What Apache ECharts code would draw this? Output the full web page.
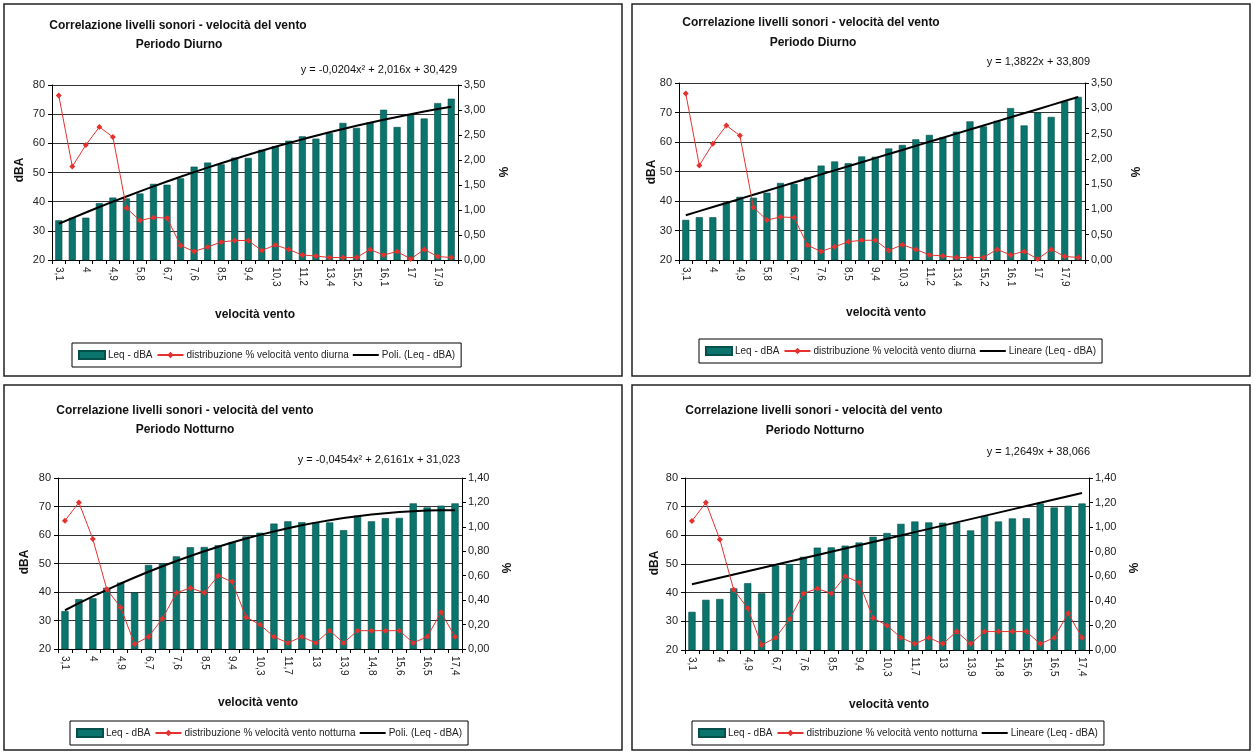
<!DOCTYPE html>
<html><head><meta charset="utf-8">
<script src="https://cdn.jsdelivr.net/npm/echarts@6/dist/echarts.min.js"></script>
<style>html,body{margin:0;padding:0;background:#fff}#c{width:1254px;height:753px}</style>
</head><body><div id="c"></div>
<script>
// ---------- DATA ----------
const catDay = ['3,1','3,6','4','4,5','4,9','5,4','5,8','6,3','6,7','7,2','7,6','8,1','8,5','9','9,4','9,9','10,3','10,8','11,2','12,5','13,4','14,3','15,2','15,6','16,1','16,5','17','17,4','17,9','18,4'];
const leqDay = [33.6,34.5,34.5,39.5,41.4,41.1,42.8,46.1,45.8,48,52,53.4,52.8,55.1,55,57.8,59,60.9,62.4,61.6,63.5,67,65.3,67.2,71.5,65.6,69.9,68.5,73.8,75.3];
const pctDay = [3.29,1.87,2.30,2.66,2.46,1.04,0.79,0.85,0.84,0.29,0.17,0.26,0.36,0.39,0.39,0.19,0.30,0.21,0.10,0.08,0.05,0.05,0.05,0.21,0.10,0.17,0.02,0.21,0.07,0.05];
const catNight = ['3,1','3,6','4','4,5','4,9','5,8','6,7','7,2','7,6','8,1','8,5','9','9,4','9,9','10,3','11,2','11,7','12,5','13','13,4','13,9','14,3','14,8','15,2','15,6','16,1','16,5','17','17,4'];
const leqNight = [33.3,37.5,37.8,41.5,43.3,39.8,49.5,50,52.5,55.7,55.8,56.4,57.5,59.5,60.8,64,64.8,64.5,64.4,64.4,61.7,66.8,64.8,65.9,66,71.1,69.7,70.3,71.1];
const pctNight = [1.05,1.20,0.90,0.49,0.34,0.04,0.10,0.25,0.46,0.50,0.46,0.60,0.55,0.26,0.20,0.10,0.05,0.10,0.05,0.15,0.05,0.15,0.15,0.15,0.15,0.05,0.10,0.30,0.10];
// trend line coefficients (as printed; night linear line as drawn in the picture)
const polyDay = [-0.0204, 2.016, 30.429];
const linDay = [1.3822, 33.809];
const polyNight = [-0.0454, 2.6161, 31.023];
const linNightDrawn = [1.136, 41.8];
const eqTexts = ['y = -0,0204x² + 2,016x + 30,429','y = 1,3822x + 33,809','y = -0,0454x² + 2,6161x + 31,023','y = 1,2649x + 38,066'];
const leftTicks = [20, 80, 10];
const rightDay = [0, 3.5, 0.5];
const rightNight = [0, 1.4, 0.2];

function trend(coef, n) {
  const out = [];
  for (let i = 1; i <= n; i++) {
    out.push(coef.length === 3 ? coef[0]*i*i + coef[1]*i + coef[2] : coef[0]*i + coef[1]);
  }
  return out;
}

// ---------- LAYOUT ----------
const panels = [
  {cats: catDay, leq: leqDay, pct: pctDay, tr: trend(polyDay, catDay.length), right: rightDay,
   trName: 'Poli. (Leq - dBA)', pctName: 'distribuzione % velocità vento diurna', sub: 'Periodo Diurno',
   frame: [4,4,618,372], grid: {left: 52, top: 85, width: 406, height: 175},
   t1: [178, 26], t2: [179, 45], eq: [457, 70], dba: [20, 170], pc: [502, 172], xn: [255, 315], lg: [72, 343]},
  {cats: catDay, leq: leqDay, pct: pctDay, tr: trend(linDay, catDay.length), right: rightDay,
   trName: 'Lineare (Leq - dBA)', pctName: 'distribuzione % velocità vento diurna', sub: 'Periodo Diurno',
   frame: [632,4,618,372], grid: {left: 679, top: 83, width: 406, height: 177},
   t1: [811, 23], t2: [813, 43], eq: [1090, 62], dba: [652, 172], pc: [1134, 172], xn: [886, 313], lg: [699, 339]},
  {cats: catNight, leq: leqNight, pct: pctNight, tr: trend(polyNight, catNight.length), right: rightNight,
   trName: 'Poli. (Leq - dBA)', pctName: 'distribuzione % velocità vento notturna', sub: 'Periodo Notturno',
   frame: [4,385,618,365], grid: {left: 58, top: 478, width: 404, height: 171},
   t1: [185, 411], t2: [185, 430], eq: [460, 460], dba: [25, 562], pc: [505, 568], xn: [258, 703], lg: [70, 721]},
  {cats: catNight, leq: leqNight, pct: pctNight, tr: trend(linNightDrawn, catNight.length), right: rightNight,
   trName: 'Lineare (Leq - dBA)', pctName: 'distribuzione % velocità vento notturna', sub: 'Periodo Notturno',
   frame: [632,385,618,365], grid: {left: 685, top: 478, width: 404, height: 172},
   t1: [814, 411], t2: [815, 431], eq: [1090, 452], dba: [655, 563], pc: [1132, 568], xn: [889, 705], lg: [692, 721]}
];

const FONT = "'Liberation Sans Narrow','Liberation Sans',Arial,sans-serif";
const TEAL = '#0a746d';
const RED = '#e5322f';
const LINE_ICON = 'path://M0,0 L26,0 L26,2 L0,2 Z';

const option = {animation: false, backgroundColor: '#fff', grid: [], xAxis: [], yAxis: [], series: [], legend: [], graphic: []};

panels.forEach((p, i) => {
  option.grid.push(Object.assign({containLabel: false}, p.grid));
  option.xAxis.push({
    type: 'category', gridIndex: i, data: p.cats, boundaryGap: true,
    axisLine: {lineStyle: {color: '#000', width: 1}},
    axisTick: {show: true, interval: 0, length: 4, lineStyle: {color: '#000'}},
    axisLabel: {interval: 1, rotate: -90, fontSize: 10, fontFamily: FONT, color: '#222', margin: 7}
  });
  option.yAxis.push({
    type: 'value', gridIndex: i, min: leftTicks[0], max: leftTicks[1], interval: leftTicks[2], position: 'left',
    axisLine: {show: true, lineStyle: {color: '#000'}},
    axisTick: {show: true, length: 4, lineStyle: {color: '#000'}},
    axisLabel: {fontSize: 11, fontFamily: FONT, color: '#222', margin: 7},
    splitLine: {show: true, lineStyle: {color: '#333', width: 1}}
  });
  option.yAxis.push({
    type: 'value', gridIndex: i, min: p.right[0], max: p.right[1], interval: p.right[2], position: 'right',
    axisLine: {show: true, lineStyle: {color: '#000'}},
    axisTick: {show: true, length: 4, lineStyle: {color: '#000'}},
    axisLabel: {fontSize: 11, fontFamily: FONT, color: '#222', margin: 6,
      formatter: v => v.toFixed(2).replace('.', ',')},
    splitLine: {show: false}
  });
  option.series.push({
    type: 'bar', name: 'Leq - dBA', xAxisIndex: i, yAxisIndex: 2*i, data: p.leq,
    barWidth: '52%', itemStyle: {color: TEAL, borderColor: '#05504b', borderWidth: 0.6}, z: 2
  });
  option.series.push({
    type: 'line', name: p.trName, xAxisIndex: i, yAxisIndex: 2*i, data: p.tr,
    symbol: 'none', lineStyle: {color: '#000', width: 2}, itemStyle: {color: '#000'}, z: 3
  });
  option.series.push({
    type: 'line', name: p.pctName, xAxisIndex: i, yAxisIndex: 2*i+1, data: p.pct,
    symbol: 'diamond', symbolSize: 6, lineStyle: {color: RED, width: 1}, itemStyle: {color: RED}, z: 4
  });
  option.legend.push({
    left: p.lg[0], top: p.lg[1], orient: 'horizontal',
    borderColor: '#000', borderWidth: 1, padding: [7, 6], itemGap: 4,
    itemWidth: 26, itemHeight: 8,
    textStyle: {fontSize: 10, fontFamily: FONT, color: '#222', padding: [0, 0, 0, -2]},
    data: [{name: 'Leq - dBA', icon: 'rect'}, {name: p.pctName}, {name: p.trName, icon: LINE_ICON}]
  });
  const f = p.frame;
  option.graphic.push({type: 'rect', shape: {x: f[0], y: f[1], width: f[2], height: f[3]},
    style: {fill: 'none', stroke: '#222', lineWidth: 1.5}, silent: true});
  const txt = (x, y, text, font, align, rot) => ({type: 'text', x: x, y: y, rotation: rot || 0, silent: true,
    style: {text: text, font: font, fill: '#111', align: align || 'center', verticalAlign: 'middle'}});
  option.graphic.push(txt(p.t1[0], p.t1[1], 'Correlazione livelli sonori - velocità del vento', 'bold 12px ' + FONT));
  option.graphic.push(txt(p.t2[0], p.t2[1], p.sub, 'bold 12px ' + FONT));
  option.graphic.push(txt(p.eq[0], p.eq[1], eqTexts[i], '11px ' + FONT, 'right'));
  option.graphic.push(txt(p.dba[0], p.dba[1], 'dBA', 'bold 12px ' + FONT, 'center', Math.PI/2));
  option.graphic.push(txt(p.pc[0], p.pc[1], '%', 'bold 12px ' + FONT, 'center', -Math.PI/2));
  option.graphic.push(txt(p.xn[0], p.xn[1], 'velocità vento', 'bold 12px ' + FONT));
});

const chart = echarts.init(document.getElementById('c'), null, {renderer: 'canvas'});
chart.setOption(option);
</script>
</body></html>
